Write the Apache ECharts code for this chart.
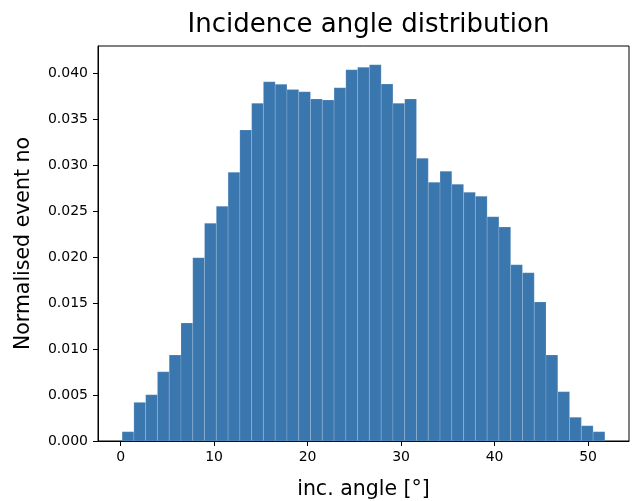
<!DOCTYPE html>
<html>
<head>
<meta charset="utf-8">
<script src="https://cdn.jsdelivr.net/npm/echarts@6/dist/echarts.min.js"></script>
<style>html,body{margin:0;padding:0;background:#fff}#c{width:633px;height:501px}</style>
</head>
<body>
<div id="c"></div>
<script>
// Histogram: bin range and normalised counts (41 bins)
const binLow = 0.16;
const binHigh = 51.8;
const counts = [
  0.00101, 0.00420, 0.00503, 0.00753, 0.00935, 0.01283, 0.01993, 0.02366, 0.02551, 0.02920,
  0.03380, 0.03670, 0.03905, 0.03877, 0.03822, 0.03797, 0.03717, 0.03707, 0.03840, 0.04036,
  0.04062, 0.04090, 0.03880, 0.03670, 0.03717, 0.03073, 0.02812, 0.02931, 0.02790, 0.02703,
  0.02660, 0.02438, 0.02326, 0.01916, 0.01829, 0.01511, 0.00935, 0.00536, 0.00258, 0.00166,
  0.00101
];
const titleText = 'Incidence angle distribution';
const xLabel = 'inc. angle [°]';
const yLabel = 'Normalised event no';

const nb = counts.length;
const bw = (binHigh - binLow) / nb;
const data = counts.map((v, i) => [binLow + i * bw, binLow + (i + 1) * bw, v]);

const font = 'DejaVu Sans';
const chart = echarts.init(document.getElementById('c'), null, {renderer: 'canvas'});
chart.setOption({
  animation: false,
  backgroundColor: '#fff',
  textStyle: {fontFamily: font},
  title: {
    text: titleText, left: 363.5, top: 7, textAlign: 'center',
    textStyle: {fontFamily: font, fontSize: 26, fontWeight: 'normal', color: '#000'}
  },
  grid: {left: 98, top: 46, width: 531, height: 395, show: true, borderColor: '#000', borderWidth: 1,
    backgroundColor: 'transparent', containLabel: false, outerBoundsMode: 'none'},
  xAxis: {
    type: 'value', min: -2.42, max: 54.38, splitNumber: 5,
    name: xLabel, nameLocation: 'middle', nameGap: 38,
    nameTextStyle: {fontFamily: font, fontSize: 20.5, color: '#000'},
    axisLine: {show: true, onZero: false, lineStyle: {color: '#000', width: 1}},
    axisTick: {show: true, length: 5, lineStyle: {color: '#000'}},
    axisLabel: {fontFamily: font, fontSize: 14, color: '#000', margin: 9, showMinLabel: false, showMaxLabel: false},
    splitLine: {show: false}
  },
  yAxis: {
    type: 'value', min: 0, max: 0.042935, interval: 0.005,
    name: yLabel, nameLocation: 'middle', nameGap: 64, nameRotate: 90,
    nameTextStyle: {fontFamily: font, fontSize: 20.5, color: '#000'},
    axisLine: {show: true, onZero: false, lineStyle: {color: '#000', width: 1}},
    axisTick: {show: true, length: 5, lineStyle: {color: '#000'}},
    axisLabel: {fontFamily: font, fontSize: 14, color: '#000', margin: 10, showMaxLabel: false,
      formatter: v => v.toFixed(3)},
    splitLine: {show: false}
  },
  series: [{
    type: 'custom',
    data: data,
    encode: {x: [0, 1], y: 2},
    renderItem: function (params, api) {
      const p0 = api.coord([api.value(0), 0]);
      const p1 = api.coord([api.value(1), api.value(2)]);
      return {
        type: 'rect',
        shape: {x: p0[0], y: p1[1], width: p1[0] - p0[0], height: p0[1] - p1[1]},
        style: {fill: '#3b77af', stroke: 'rgba(255,255,255,0.3)', lineWidth: 0.5}
      };
    }
  }]
});
</script>
</body>
</html>
